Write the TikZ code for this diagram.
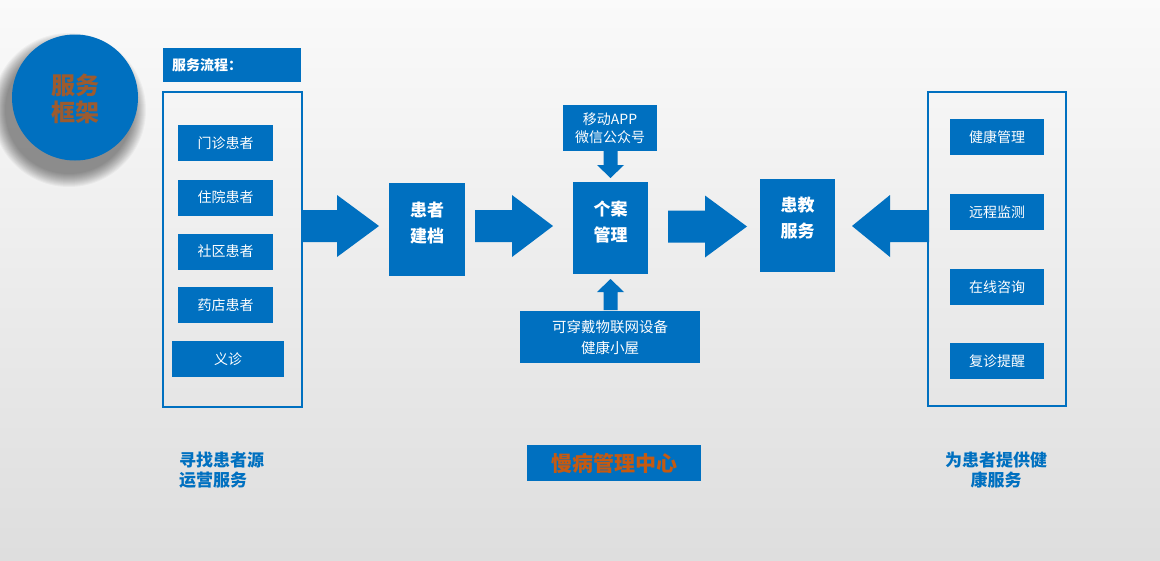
\documentclass[tikz,border=0pt]{standalone}
\usepackage{fontspec}
\setmainfont{Noto Sans CJK SC}
\usetikzlibrary{positioning}
\definecolor{c1}{HTML}{0070C0}
\definecolor{c2}{HTML}{9C5B2F}
\definecolor{c3}{HTML}{C55A11}

% block arrows: tail, tip, middle, start of head
\newcommand{\flowbar}[4]{%
  \fill[bar] (#1,{#3-16}) -- (#4,{#3-16}) -- (#4,{#3-31}) -- (#2,#3)
    -- (#4,{#3+31}) -- (#4,{#3+16}) -- (#1,{#3+16}) -- cycle;}
\newcommand{\vflowbar}[4]{%
  \fill[bar] ({#1-7},#2) -- ({#1-7},#4) -- ({#1-13.5},#4) -- (#1,#3)
    -- ({#1+13.5},#4) -- ({#1+7},#4) -- ({#1+7},#2) -- cycle;}

\begin{document}
\begin{tikzpicture}[
    x=1pt, y=-1pt,
    every node/.style={inner sep=0pt},
    box/.style={fill=c1, text=white, font=\fontsize{14}{18}\selectfont,
        align=center, minimum width=95pt, minimum height=36pt},
    tallbox/.style={fill=c1, text=white, font=\bfseries\fontsize{17}{26}\selectfont,
        align=center, minimum width=76pt, minimum height=93pt, text depth=14pt},
    frame/.style={draw=c1, line width=1.6pt},
    tag/.style={text=c1, font=\bfseries\fontsize{17}{20}\selectfont},
    bar/.style={fill=c1},
]
\useasboundingbox (0,0) rectangle (1160,560);
\shade[top color=black!2, bottom color=black!13] (0,0) rectangle (1160,560);

% ============================================================ title disc
\foreach \k in {0,...,13}{
    \fill[black, opacity=0.035] (69,110) circle ({(77-\k)*1pt});
}
\node[circle, fill=c1, minimum size=126pt] (disc) at (75,97.5) {};
\node[text=c2, font=\bfseries\fontsize{24}{27}\selectfont, align=center]
    (disct) at (75,99) {服务\\框架};

% ============================================================ sources
\node[fill=c1, minimum width=138pt, minimum height=34pt] (flowhd) at (232,65) {};
\node[anchor=west, text=white, font=\bfseries\fontsize{14}{16}\selectfont]
    (flowt) at (172,65) {服务流程：};
\draw[frame] (163,92) rectangle (302,407);
\node[box] (src1) at (225.5,143) {门诊患者};
\node[box] (src2) at (225.5,197.5) {住院患者};
\node[box] (src3) at (225.5,251.5) {社区患者};
\node[box] (src4) at (225.5,305) {药店患者};
\node[box, minimum width=112pt] (src5) at (228,359) {义诊};

% ============================================================ main chain
\node[tallbox] (jd) at (427,229.5) {患者\\建档};
\node[tallbox, minimum width=75pt, minimum height=92pt] (ga) at (610.5,228) {个案\\管理};
\node[tallbox, minimum width=75pt, text depth=17pt] (hj) at (797.5,225.5) {患教\\服务};

\node[box, minimum width=94pt, minimum height=46pt] (app) at (610,128)
    {移动APP\\微信公众号};
\node[box, font=\fontsize{14.5}{21}\selectfont, minimum width=180pt, minimum height=52pt]
    (iot) at (610,337) {可穿戴物联网设备\\健康小屋};

\flowbar{302}{379}{226}{337}
\flowbar{475}{553}{226}{512}
\flowbar{668}{747}{226.5}{705}
\flowbar{929}{852}{226}{890}
\vflowbar{610.5}{151}{178}{165}
\vflowbar{610.5}{310}{279}{292}

% ============================================================ services
\draw[frame] (928,92) rectangle (1066,406);
\node[box, minimum width=94pt] (srv1) at (997,137) {健康管理};
\node[box, minimum width=94pt] (srv2) at (997,212) {远程监测};
\node[box, minimum width=94pt] (srv3) at (997,287) {在线咨询};
\node[box, minimum width=94pt] (srv4) at (997,361) {复诊提醒};

% ============================================================ captions
\node[tag, anchor=west, align=left] (capl) at (179,470) {寻找患者源\\运营服务};
\node[fill=c1, text=c3, font=\bfseries\fontsize{21}{24}\selectfont,
    minimum width=174pt, minimum height=36pt] (capm) at (614,463) {慢病管理中心};
\node[tag, align=center] (capr) at (996,470.5) {为患者提供健\\康服务};

\end{tikzpicture}
\end{document}
